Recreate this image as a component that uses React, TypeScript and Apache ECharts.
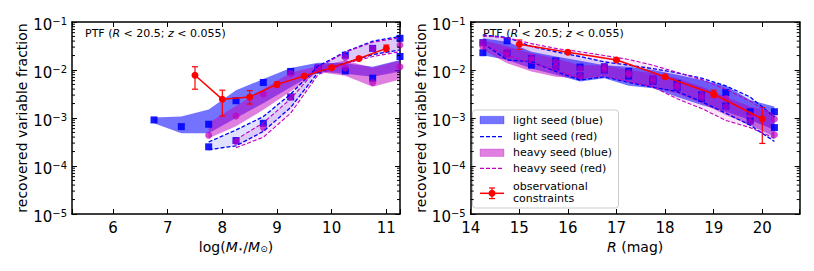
import React, { useEffect, useRef } from 'react';
import * as echarts from 'echarts';

const FONT = 'DejaVu Sans';

// ---------- Left panel: stellar mass bins ----------
const massBins = [6.75, 7.25, 7.75, 8.25, 8.75, 9.25, 9.75, 10.25, 10.75, 11.25];
const massBinsHeavy = [7.75, 8.25, 8.75, 9.25, 9.75, 10.25, 10.75, 11.25];
const massBinsHeavyRed = [8.25, 8.75, 9.25, 9.75, 10.25, 10.75, 11.25];

const lsBlueHiM = [1.02e-3, 1.07e-3, 1.51e-3, 3.8e-3, 6.46e-3, 1.1e-2, 1.41e-2, 1.38e-2, 1.17e-2, 1.62e-2];
const lsBlueLoM = [7.76e-4, 4.79e-4, 4.79e-4, 1.0e-3, 2.04e-3, 4.37e-3, 9.33e-3, 8.32e-3, 7.24e-3, 9.33e-3];
const hsBlueHiM = [7.94e-4, 1.78e-3, 3.98e-3, 8.91e-3, 1.2e-2, 1.58e-2, 1.12e-2, 1.58e-2];
const hsBlueLoM = [3.8e-4, 6.76e-4, 1.48e-3, 3.55e-3, 9.12e-3, 7.59e-3, 4.47e-3, 6.31e-3];
const lsRedHiM = [3.16e-4, 5.62e-4, 1.07e-3, 3.16e-3, 1.2e-2, 2.4e-2, 3.98e-2, 5.01e-2];
const lsRedLoM = [2.19e-4, 2.63e-4, 5.25e-4, 1.66e-3, 8.91e-3, 1.41e-2, 2.09e-2, 2.63e-2];
const hsRedHiM = [3.55e-4, 7.94e-4, 2.51e-3, 1.12e-2, 2.34e-2, 3.8e-2, 4.68e-2];
const hsRedLoM = [2.4e-4, 3.98e-4, 1.26e-3, 7.94e-3, 1.35e-2, 1.91e-2, 2.4e-2];

const lsBlueMedM = [9.12e-4, 6.61e-4, 7.41e-4, 2.29e-3, 5.5e-3, 9.33e-3, 1.1e-2, 9.55e-3, 6.76e-3, 1.91e-2];
const lsRedMedM = [2.51e-4, 3.39e-4, 7.76e-4, 2.75e-3, 1.0e-2, 2.04e-2, 2.82e-2, 4.57e-2];
const hsBlueMedM = [4.37e-4, 1.1e-3, 3.16e-3, 8.51e-3, 1.12e-2, 1.1e-2, 5.5e-3, 1.17e-2];
const hsRedMedM = [3.24e-4, 6.31e-4, 2.75e-3, 1.05e-2, 1.82e-2, 2.82e-2, 3.31e-2];

const obsMassX = [7.5, 8.0, 8.5, 9.0, 9.5, 10.0, 10.5, 11.0];
const obsMassY = [7.76e-3, 2.45e-3, 2.75e-3, 5.01e-3, 7.5e-3, 1.12e-2, 1.74e-2, 2.82e-2];
const obsMassLo = [3.98e-3, 1.1e-3, 1.95e-3, 4.47e-3, 7.08e-3, 1.05e-2, 1.62e-2, 2.4e-2];
const obsMassHi = [1.17e-2, 3.8e-3, 3.72e-3, 5.62e-3, 7.94e-3, 1.2e-2, 1.86e-2, 3.31e-2];

// ---------- Right panel: R magnitude bins ----------
const magBins = [14.25, 14.75, 15.25, 15.75, 16.25, 16.75, 17.25, 17.75, 18.25, 18.75, 19.25, 19.75, 20.25];

const lsBlueHiR = [4.57e-2, 3.89e-2, 2.4e-2, 1.91e-2, 1.55e-2, 1.26e-2, 1.17e-2, 1.0e-2, 7.94e-3, 6.17e-3, 4.68e-3, 2.37e-3, 1.74e-3];
const lsBlueLoR = [2.04e-2, 1.62e-2, 1.07e-2, 7.94e-3, 5.75e-3, 6.76e-3, 4.68e-3, 4.17e-3, 2.75e-3, 1.86e-3, 1.35e-3, 9.12e-4, 5.62e-4];
const hsBlueHiR = [4.22e-2, 3.09e-2, 2.24e-2, 1.74e-2, 1.26e-2, 1.26e-2, 1.0e-2, 8.51e-3, 6.76e-3, 4.47e-3, 2.75e-3, 1.74e-3, 1.26e-3];
const hsBlueLoR = [2.63e-2, 1.38e-2, 9.33e-3, 7.24e-3, 6.76e-3, 7.94e-3, 5.75e-3, 4.37e-3, 3.24e-3, 2.04e-3, 1.15e-3, 7.08e-4, 4.07e-4];
const lsRedHiR = [5.37e-2, 4.79e-2, 3.09e-2, 2.4e-2, 1.91e-2, 1.48e-2, 1.26e-2, 1.07e-2, 8.71e-3, 6.76e-3, 4.68e-3, 2.75e-3, 1.05e-3];
const lsRedLoR = [3.63e-2, 1.62e-2, 1.48e-2, 9.33e-3, 6.17e-3, 7.24e-3, 5.5e-3, 4.37e-3, 3.55e-3, 2.19e-3, 1.26e-3, 7.08e-4, 3.24e-4];
const hsRedHiR = [5.13e-2, 4.68e-2, 3.55e-2, 2.82e-2, 2.4e-2, 2.0e-2, 1.66e-2, 1.26e-2, 8.91e-3, 6.31e-3, 3.98e-3, 2.24e-3, 1.12e-3];
const hsRedLoR = [3.55e-2, 2.0e-2, 1.41e-2, 1.0e-2, 6.76e-3, 7.59e-3, 5.75e-3, 4.47e-3, 2.51e-3, 1.58e-3, 8.91e-4, 6.31e-4, 3.8e-4];

const lsBlueMedR = [2.29e-2, 2.24e-2, 1.26e-2, 1.17e-2, 7.5e-3, 1.0e-2, 7.5e-3, 5.75e-3, 4.37e-3, 2.57e-3, 3.39e-3, 8.71e-4, 1.35e-3];
const lsRedMedR = [3.72e-2, 4.07e-2, 1.74e-2, 1.55e-2, 1.15e-2, 1.17e-2, 9.33e-3, 6.46e-3, 5.25e-3, 3.02e-3, 1.78e-3, 1.35e-3, 6.31e-4];
const hsBlueMedR = [3.72e-2, 2.4e-2, 1.82e-2, 1.48e-2, 1.07e-2, 1.17e-2, 8.71e-3, 6.76e-3, 4.9e-3, 3.02e-3, 2.57e-3, 1.15e-3, 9.55e-4];
const hsRedMedR = [3.09e-2, 2.04e-2, 1.62e-2, 1.17e-2, 7.5e-3, 1.0e-2, 7.94e-3, 5.75e-3, 4.37e-3, 2.57e-3, 1.74e-3, 8.32e-4, 4.47e-4];

const obsMagX = [15, 16, 17, 18, 19, 20];
const obsMagY = [3.43e-2, 2.34e-2, 1.62e-2, 7.24e-3, 3.16e-3, 9.55e-4];
const obsMagLo = [2.69e-2, 2.19e-2, 1.55e-2, 6.76e-3, 2.69e-3, 2.95e-4];
const obsMagHi = [4.22e-2, 2.51e-2, 1.7e-2, 7.76e-3, 3.8e-3, 1.66e-3];

// ---------- axes ----------
const yTickExponents = [-5, -4, -3, -2, -1];
const minorMantissas = [2, 3, 4, 5, 6, 7, 8, 9];
const minorDecades = [1e-5, 1e-4, 1e-3, 1e-2];

const BLUE = '#0000ff';
const MAG = '#bf00bf';
const RED = '#ff0000';

function bandSeries(axis: number, xs: number[], hi: number[], lo: number[], fill: string) {
  return {
    type: 'custom',
    xAxisIndex: axis,
    yAxisIndex: axis,
    silent: true,
    clip: true,
    data: xs.map((x, i) => [x, hi[i], lo[i]]),
    encode: { x: 0, y: [1, 2] },
    renderItem: (params: any, api: any) => {
      if (params.dataIndex !== 0) return null;
      const pts: number[][] = [];
      for (let i = 0; i < xs.length; i++) pts.push(api.coord([xs[i], hi[i]]));
      for (let i = xs.length - 1; i >= 0; i--) pts.push(api.coord([xs[i], lo[i]]));
      return { type: 'polygon', shape: { points: pts }, style: { fill } };
    },
  };
}

function dashedSeries(axis: number, xs: number[], ys: number[], color: string, width: number) {
  return {
    type: 'line',
    xAxisIndex: axis,
    yAxisIndex: axis,
    silent: true,
    symbol: 'none',
    clip: true,
    data: xs.map((x, i) => [x, ys[i]]),
    lineStyle: { color, width, type: [4, 2] },
  };
}

function pointSeries(axis: number, xs: number[], ys: number[], symbol: string, color: string, opacity: number) {
  return {
    type: 'scatter',
    xAxisIndex: axis,
    yAxisIndex: axis,
    silent: true,
    symbol,
    symbolSize: 7,
    clip: false,
    data: xs.map((x, i) => [x, ys[i]]),
    itemStyle: { color, opacity },
  };
}

function errorSeries(axis: number, xs: number[], lo: number[], hi: number[]) {
  return {
    type: 'custom',
    xAxisIndex: axis,
    yAxisIndex: axis,
    silent: true,
    data: xs.map((x, i) => [x, lo[i], hi[i]]),
    encode: { x: 0, y: [1, 2] },
    renderItem: (params: any, api: any) => {
      const a = api.coord([api.value(0), api.value(1)]);
      const b = api.coord([api.value(0), api.value(2)]);
      const st = { stroke: RED, lineWidth: 1.2 };
      return {
        type: 'group',
        children: [
          { type: 'line', shape: { x1: a[0], y1: a[1], x2: b[0], y2: b[1] }, style: st },
          { type: 'line', shape: { x1: a[0] - 3, y1: a[1], x2: a[0] + 3, y2: a[1] }, style: st },
          { type: 'line', shape: { x1: b[0] - 3, y1: b[1], x2: b[0] + 3, y2: b[1] }, style: st },
        ],
      };
    },
  };
}

function obsSeries(axis: number, xs: number[], ys: number[]) {
  return {
    type: 'line',
    xAxisIndex: axis,
    yAxisIndex: axis,
    silent: true,
    symbol: 'circle',
    symbolSize: 7,
    data: xs.map((x, i) => [x, ys[i]]),
    lineStyle: { color: RED, width: 1.5 },
    itemStyle: { color: RED },
  };
}

function minorTickSeries(axis: number, xAt: number) {
  const vals: number[][] = [];
  minorDecades.forEach((d) => minorMantissas.forEach((m) => vals.push([xAt, m * d])));
  return {
    type: 'custom',
    xAxisIndex: axis,
    yAxisIndex: axis,
    silent: true,
    clip: false,
    z: 5,
    data: vals,
    encode: { x: 0, y: 1 },
    renderItem: (params: any, api: any) => {
      const p = api.coord([api.value(0), api.value(1)]);
      const cs = params.coordSys;
      const st = { stroke: '#000', lineWidth: 1 };
      return {
        type: 'group',
        children: [
          { type: 'line', shape: { x1: cs.x, y1: p[1], x2: cs.x + 3, y2: p[1] }, style: st },
          { type: 'line', shape: { x1: cs.x + cs.width - 3, y1: p[1], x2: cs.x + cs.width, y2: p[1] }, style: st },
        ],
      };
    },
  };
}

const axisLine = { show: true, onZero: false, lineStyle: { color: '#000', width: 1.5 } };
const axisTick = { show: true, inside: true, length: 5, lineStyle: { color: '#000', width: 1 } };

function intLabel(v: number) {
  return Math.abs(v - Math.round(v)) < 1e-6 ? String(Math.round(v)) : '';
}

function xAxisPair(grid: number, min: number, max: number, name: string, rich: any) {
  return [
    {
      type: 'value', gridIndex: grid, position: 'bottom', min, max, splitNumber: 6,
      axisLine, axisTick, splitLine: { show: false },
      axisLabel: { show: true, color: '#000', fontSize: 15, fontFamily: FONT, margin: 6, formatter: intLabel },
      name, nameLocation: 'middle', nameGap: 22,
      nameTextStyle: { color: '#000', fontSize: 14, fontFamily: FONT, rich },
    },
    {
      type: 'value', gridIndex: grid, position: 'top', min, max, splitNumber: 6,
      axisLine, axisTick, splitLine: { show: false }, axisLabel: { show: false },
    },
  ];
}

const yRich = {
  b: { fontSize: 15, fontFamily: FONT, color: '#000', padding: [6, 0, 0, 0] },
  s: { fontSize: 10, fontFamily: FONT, color: '#000', padding: [0, 0, 1, 0] },
};

function yAxisPair(grid: number, nameGap: number) {
  return [
    {
      type: 'log', logBase: 10, gridIndex: grid, position: 'left', min: 1e-5, max: 1e-1,
      axisLine, axisTick, splitLine: { show: false },
      axisLabel: {
        show: true, margin: 5, fontFamily: FONT,
        formatter: (v: number) => {
          const e = Math.round(Math.log10(v));
          if (!yTickExponents.includes(e)) return '';
          return '{b|10}{s|\u2212' + Math.abs(e) + '}';
        },
        rich: yRich,
      },
      name: 'recovered variable fraction', nameLocation: 'middle', nameGap,
      nameTextStyle: { color: '#000', fontSize: 14, fontFamily: FONT },
    },
    {
      type: 'log', logBase: 10, gridIndex: grid, position: 'right', min: 1e-5, max: 1e-1,
      axisLine, axisTick, splitLine: { show: false }, axisLabel: { show: false },
    },
  ];
}

const massRich = {
  n: { fontSize: 14, fontFamily: FONT, color: '#000' },
  i: { fontSize: 14, fontFamily: FONT, fontStyle: 'italic', color: '#000' },
  s: { fontSize: 9, fontFamily: FONT, color: '#000', padding: [5, 0, 0, 0] },
};
const magRich = {
  n: { fontSize: 14, fontFamily: FONT, color: '#000' },
  i: { fontSize: 14, fontFamily: FONT, fontStyle: 'italic', color: '#000' },
};

const annRich = {
  n: { fontSize: 11, fontFamily: FONT, color: '#000' },
  i: { fontSize: 11, fontFamily: FONT, fontStyle: 'italic', color: '#000' },
};
const annText = '{n|PTF (}{i|R}{n| < 20.5; }{i|z}{n| < 0.055)}';

function legendGraphic() {
  const tx = 513;
  const text = (t: string, y: number) => ({
    type: 'text', x: tx, y,
    style: { text: t, fontSize: 11, fontFamily: FONT, fill: '#000', verticalAlign: 'middle', textVerticalAlign: 'middle' },
  });
  return {
    type: 'group', z: 100,
    children: [
      { type: 'rect', shape: { x: 472.5, y: 110, width: 146, height: 98, r: 3 }, style: { fill: 'rgba(255,255,255,0.8)', stroke: '#cccccc', lineWidth: 1 } },
      { type: 'rect', shape: { x: 480, y: 116.3, width: 24, height: 7.5 }, style: { fill: 'rgba(0,0,255,0.55)', stroke: 'rgba(0,0,255,0.55)', lineWidth: 0.5 } },
      text('light seed (blue)', 120),
      { type: 'line', shape: { x1: 480, y1: 136.7, x2: 504, y2: 136.7 }, style: { stroke: BLUE, lineWidth: 1.3, lineDash: [4, 2] } },
      text('light seed (red)', 136.7),
      { type: 'rect', shape: { x: 480, y: 149, width: 24, height: 7.5 }, style: { fill: 'rgba(191,0,191,0.5)', stroke: 'rgba(191,0,191,0.5)', lineWidth: 0.5 } },
      text('heavy seed (blue)', 152.7),
      { type: 'line', shape: { x1: 480, y1: 168.3, x2: 504, y2: 168.3 }, style: { stroke: MAG, lineWidth: 1.2, lineDash: [4, 2] } },
      text('heavy seed (red)', 168.3),
      { type: 'line', shape: { x1: 480, y1: 193.3, x2: 504, y2: 193.3 }, style: { stroke: RED, lineWidth: 1.5 } },
      { type: 'line', shape: { x1: 492, y1: 188, x2: 492, y2: 198.6 }, style: { stroke: RED, lineWidth: 1.2 } },
      { type: 'line', shape: { x1: 489, y1: 188, x2: 495, y2: 188 }, style: { stroke: RED, lineWidth: 1.2 } },
      { type: 'line', shape: { x1: 489, y1: 198.6, x2: 495, y2: 198.6 }, style: { stroke: RED, lineWidth: 1.2 } },
      { type: 'circle', shape: { cx: 492, cy: 193.3, r: 3.5 }, style: { fill: RED } },
      text('observational', 186.3),
      text('constraints', 198.3),
    ],
  };
}

function panelSeries(axis: number, d: any) {
  return [
    bandSeries(axis, d.x1, d.lsBlueHi, d.lsBlueLo, 'rgba(0,0,255,0.55)'),
    bandSeries(axis, d.x2, d.hsBlueHi, d.hsBlueLo, 'rgba(191,0,191,0.5)'),
    bandSeries(axis, d.x2r, d.lsRedHi, d.lsRedLo, 'rgba(0,0,255,0.12)'),
    bandSeries(axis, d.x3, d.hsRedHi, d.hsRedLo, 'rgba(191,0,191,0.1)'),
    dashedSeries(axis, d.x2r, d.lsRedHi, BLUE, 1.3),
    dashedSeries(axis, d.x2r, d.lsRedLo, BLUE, 1.3),
    dashedSeries(axis, d.x3, d.hsRedHi, MAG, 1.1),
    dashedSeries(axis, d.x3, d.hsRedLo, MAG, 1.1),
    pointSeries(axis, d.x1, d.lsBlueMed, 'rect', BLUE, 0.9),
    pointSeries(axis, d.x2r, d.lsRedMed, 'rect', BLUE, 0.9),
    pointSeries(axis, d.x2, d.hsBlueMed, 'circle', MAG, 0.7),
    pointSeries(axis, d.x3, d.hsRedMed, 'circle', MAG, 0.7),
    errorSeries(axis, d.ox, d.olo, d.ohi),
    obsSeries(axis, d.ox, d.oy),
    minorTickSeries(axis, d.x1[0]),
  ];
}

export default function App() {
  const ref = useRef<HTMLDivElement>(null);
  useEffect(() => {
    if (!ref.current) return;
    const chart = echarts.init(ref.current, null, { renderer: 'svg' });
    const xAxes = [
      ...xAxisPair(0, 5.25, 11.25, '{n|log(}{i|M}{s|\u22c6}{n|/}{i|M}{s|\u2299}{n|)}', massRich),
      ...xAxisPair(1, 14, 20.77, '{i|R}{n| (mag)}', magRich),
    ];
    const yAxes = [...yAxisPair(0, 42), ...yAxisPair(1, 38.5)];
    const series = [
      ...panelSeries(0, {
        x1: massBins, x2: massBinsHeavy, x2r: massBinsHeavy, x3: massBinsHeavyRed,
        lsBlueHi: lsBlueHiM, lsBlueLo: lsBlueLoM, hsBlueHi: hsBlueHiM, hsBlueLo: hsBlueLoM,
        lsRedHi: lsRedHiM, lsRedLo: lsRedLoM, hsRedHi: hsRedHiM, hsRedLo: hsRedLoM,
        lsBlueMed: lsBlueMedM, lsRedMed: lsRedMedM, hsBlueMed: hsBlueMedM, hsRedMed: hsRedMedM,
        ox: obsMassX, oy: obsMassY, olo: obsMassLo, ohi: obsMassHi,
      }),
      ...panelSeries(2, {
        x1: magBins, x2: magBins, x2r: magBins, x3: magBins,
        lsBlueHi: lsBlueHiR, lsBlueLo: lsBlueLoR, hsBlueHi: hsBlueHiR, hsBlueLo: hsBlueLoR,
        lsRedHi: lsRedHiR, lsRedLo: lsRedLoR, hsRedHi: hsRedHiR, hsRedLo: hsRedLoR,
        lsBlueMed: lsBlueMedR, lsRedMed: lsRedMedR, hsBlueMed: hsBlueMedR, hsRedMed: hsRedMedR,
        ox: obsMagX, oy: obsMagY, olo: obsMagLo, ohi: obsMagHi,
      }),
    ];
    chart.setOption({
      animation: false,
      backgroundColor: '#ffffff',
      textStyle: { fontFamily: FONT },
      grid: [
        { left: 72, top: 22, width: 328, height: 192 },
        { left: 470.7, top: 22, width: 329, height: 192 },
      ],
      xAxis: xAxes,
      yAxis: yAxes,
      series,
      graphic: [
        { type: 'text', x: 85, y: 33, style: { text: annText, rich: annRich, verticalAlign: 'middle', textVerticalAlign: 'middle' } },
        { type: 'text', x: 483, y: 33, style: { text: annText, rich: annRich, verticalAlign: 'middle', textVerticalAlign: 'middle' } },
        legendGraphic(),
      ],
    });
    return () => chart.dispose();
  }, []);
  return <div ref={ref} style={{ position: 'fixed', left: 0, top: 0, width: 814, height: 271, background: '#fff' }} />;
}
